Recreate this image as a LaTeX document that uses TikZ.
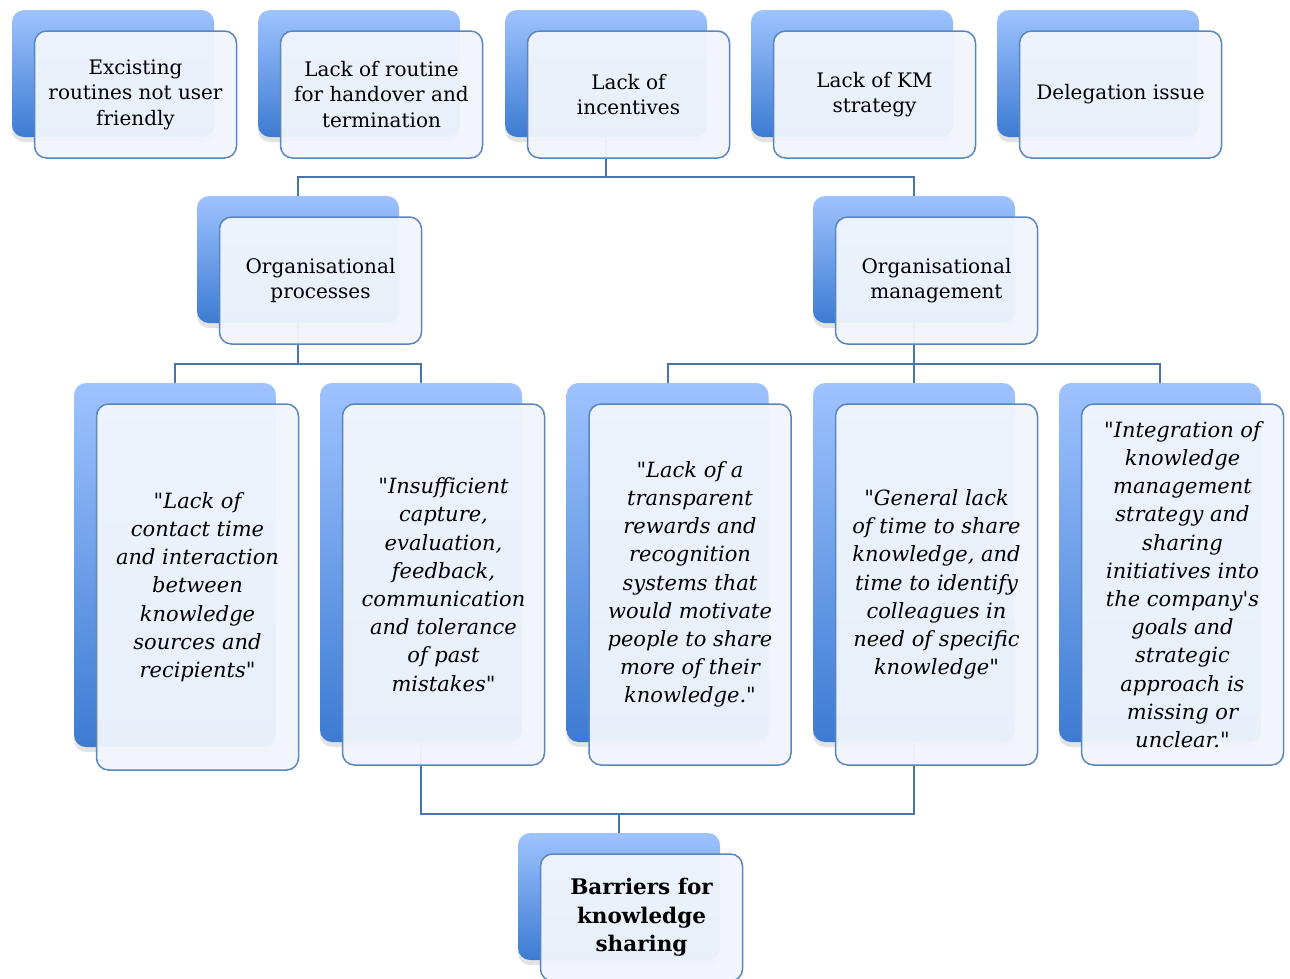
\documentclass[tikz,border=0pt]{standalone}
\usepackage{fontspec}
\setmainfont{DejaVu Serif}[Ligatures=TeXOff]
\usetikzlibrary{shadows}
\definecolor{linkblue}{HTML}{4A75A8}
\definecolor{edgeblue}{HTML}{5A86C0}
\definecolor{paleblue}{HTML}{F1F6FC}
\definecolor{topblue}{HTML}{9EC3FF}
\definecolor{lowblue}{HTML}{3D7BD2}
\tikzset{
  backbox/.style={rectangle,rounded corners=12pt,minimum width=202pt,
    minimum height=127pt,inner sep=0pt,top color=topblue,bottom color=lowblue,
    draw=none,drop shadow={shadow xshift=0pt,shadow yshift=-5pt,opacity=.22}},
  frontbox/.style={rectangle,rounded corners=12pt,minimum width=202pt,
    minimum height=127pt,inner sep=0pt,draw=edgeblue,line width=1.5pt,
    fill=paleblue,fill opacity=.95,text opacity=1,align=center,
    font=\fontsize{20}{25.5}\selectfont},
  tallbox/.style={minimum height=359pt},
  quote/.style={font=\itshape\fontsize{21}{28.2}\selectfont},
  conn/.style={draw=linkblue,line width=2pt}
}

\begin{document}
\begin{tikzpicture}[x=1pt,y=-1pt]
\useasboundingbox (0,0) rectangle (1290,978);
\node[backbox] (routines) at (113,73.5) {};
\node[backbox] (handover) at (359,73.5) {};
\node[backbox] (incent) at (606,73.5) {};
\node[backbox] (kmstrat) at (852,73.5) {};
\node[backbox] (deleg) at (1098,73.5) {};
\node[backbox] (procs) at (298,259.5) {};
\node[backbox] (mgmt) at (914,259.5) {};
\node[backbox,minimum height=364pt] (contact) at (175,565) {};
\node[backbox,tallbox] (capture) at (421,562.5) {};
\node[backbox,tallbox] (reward) at (667.5,562.5) {};
\node[backbox,tallbox] (lacktime) at (914,562.5) {};
\node[backbox,tallbox] (integr) at (1160,562.5) {};
\node[backbox] (barrier) at (619,896.5) {};

\draw[conn] (incent.south) -- ++(0,40) coordinate (hubA);
\draw[conn] (hubA) -| (procs.north);
\draw[conn] (hubA) -| (mgmt.north);
\draw[conn] (procs.south) -- ++(0,41) coordinate (hubB);
\draw[conn] (hubB) -| (contact.north);
\draw[conn] (hubB) -| (capture.north);
\draw[conn] (mgmt.south) -- ++(0,41) coordinate (hubC);
\draw[conn] (hubC) -| (reward.north);
\draw[conn] (hubC) -- (lacktime.north);
\draw[conn] (hubC) -| (integr.north);
\draw[conn] (barrier.north) -- ++(0,-19) coordinate (hubD);
\draw[conn] (capture.south) |- (hubD);
\draw[conn] (lacktime.south) |- (hubD);

\node[frontbox] (routinesF) at ([shift={(22.5,21)}]routines.center)
  {Excisting\\routines not user\\friendly};
\node[frontbox] (handoverF) at ([shift={(22.5,21)}]handover.center)
  {Lack of routine\\for handover and\\termination};
\node[frontbox] (incentF) at ([shift={(22.5,21)}]incent.center)
  {Lack of\\incentives};
\node[frontbox] (kmstratF) at ([shift={(22.5,21)}]kmstrat.center)
  {Lack of KM\\strategy};
\node[frontbox] (delegF) at ([shift={(22.5,21)}]deleg.center)
  {Delegation issue};
\node[frontbox] (procsF) at ([shift={(22.5,21)}]procs.center)
  {Organisational\\processes};
\node[frontbox] (mgmtF) at ([shift={(22.5,21)}]mgmt.center)
  {Organisational\\management};
\node[frontbox,quote,minimum height=366pt] (contactF) at ([shift={(22.5,22)}]contact.center)
  {"Lack of\\contact time\\and interaction\\between\\knowledge\\sources and\\recipients"};
\node[frontbox,quote,minimum height=361pt] (captureF) at ([shift={(22.5,22)}]capture.center)
  {"Insufficient\\capture,\\evaluation,\\feedback,\\communication\\and tolerance\\of past\\mistakes"};
\node[frontbox,quote,minimum height=361pt] (rewardF) at ([shift={(22.5,22)}]reward.center)
  {"Lack of a\\transparent\\rewards and\\recognition\\systems that\\would motivate\\people to share\\more of their\\knowledge."};
\node[frontbox,quote,minimum height=361pt] (lacktimeF) at ([shift={(22.5,22)}]lacktime.center)
  {"General lack\\of time to share\\knowledge, and\\time to identify\\colleagues in\\need of specific\\knowledge"};
\node[frontbox,quote,minimum height=361pt] (integrF) at ([shift={(22.5,22)}]integr.center)
  {"Integration of\\knowledge\\management\\strategy and\\sharing\\initiatives into\\the company's\\goals and\\strategic\\approach is\\missing or\\unclear."};
\node[frontbox,font=\bfseries\fontsize{21.5}{28.5}\selectfont] (barrierF)
  at ([shift={(22.5,21)}]barrier.center) {Barriers for\\knowledge\\sharing};
\end{tikzpicture}
\end{document}
